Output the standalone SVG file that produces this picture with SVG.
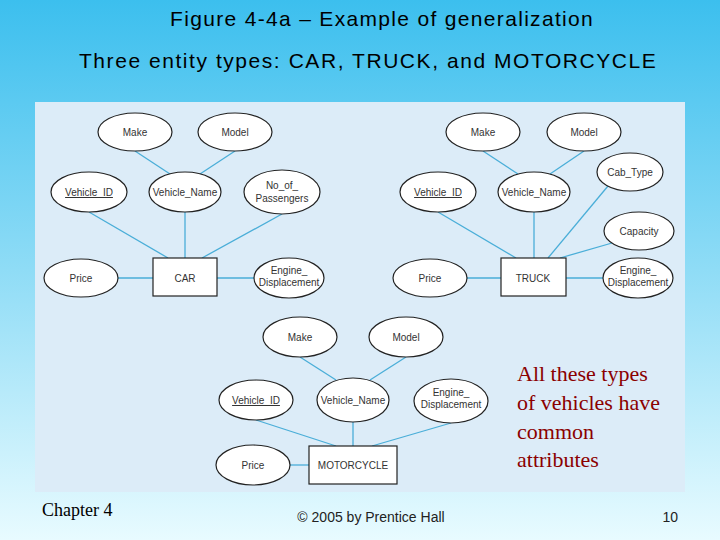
<svg xmlns="http://www.w3.org/2000/svg" width="720" height="540" viewBox="0 0 720 540">
<defs>
<linearGradient id="bg" x1="0" y1="0" x2="0" y2="1">
<stop offset="0" stop-color="#3cbfee"/><stop offset="0.5" stop-color="#8fdcf6"/><stop offset="1" stop-color="#e8fbff"/>
</linearGradient>
<style>
.e{fill:#fff;stroke:#222;stroke-width:1.2}
.r{fill:#fff;stroke:#222;stroke-width:1.2}
.t{font-family:"Liberation Sans",Arial,sans-serif;font-size:10px;fill:#333;text-anchor:middle}
.c line{stroke:#4aaed8;stroke-width:1.3}
.h{font-family:"Liberation Sans",Arial,sans-serif;font-size:21px;letter-spacing:1.2px;fill:#000;text-anchor:middle}
.s{font-family:"Liberation Serif","Times New Roman",serif;font-size:22px;fill:#8b0000}
</style>
</defs>
<rect width="720" height="540" fill="url(#bg)"/>
<text class="h" x="382" y="26" textLength="424">Figure 4-4a – Example of generalization</text>
<text class="h" x="368" y="68" textLength="578">Three entity types: CAR, TRUCK, and MOTORCYCLE</text>
<rect x="35" y="102" width="650" height="390" fill="#dcecf8"/>
<g class="c">
<line x1="135" y1="151" x2="170" y2="174"/><line x1="235" y1="151" x2="200" y2="174"/>
<line x1="89" y1="212" x2="168" y2="258"/><line x1="185" y1="212" x2="185" y2="258"/><line x1="282" y1="214" x2="202" y2="258"/>
<line x1="118" y1="278" x2="153" y2="278"/><line x1="217" y1="278" x2="254" y2="278"/>
<line x1="483" y1="151" x2="518" y2="174"/><line x1="584" y1="151" x2="550" y2="174"/>
<line x1="438" y1="212" x2="516" y2="258"/><line x1="534" y1="212" x2="534" y2="258"/>
<line x1="608" y1="186" x2="548" y2="258"/><line x1="612" y1="243" x2="560" y2="258"/>
<line x1="467" y1="278" x2="501" y2="278"/><line x1="566" y1="278" x2="603" y2="278"/>
<line x1="300" y1="357" x2="336" y2="380"/><line x1="406" y1="357" x2="370" y2="380"/>
<line x1="256" y1="420" x2="336" y2="446"/><line x1="353" y1="422" x2="353" y2="446"/><line x1="451" y1="423" x2="372" y2="446"/>
<line x1="290" y1="465" x2="309" y2="465"/>
</g>
<g id="car">
<g id="car-make"><ellipse class="e" cx="135" cy="132" rx="37" ry="19"/><text class="t" x="135" y="136">Make</text></g>
<g id="car-model"><ellipse class="e" cx="235" cy="132" rx="37" ry="19"/><text class="t" x="235" y="136">Model</text></g>
<g id="car-vid"><ellipse class="e" cx="89" cy="192" rx="38" ry="20"/><text class="t" x="89" y="196" text-decoration="underline">Vehicle_ID</text></g>
<g id="car-vname"><ellipse class="e" cx="185" cy="192" rx="36" ry="20"/><text class="t" x="185" y="196">Vehicle_Name</text></g>
<g id="car-pass"><ellipse class="e" cx="282" cy="192" rx="38" ry="22"/><text class="t" x="282" y="189">No_of_</text><text class="t" x="282" y="202">Passengers</text></g>
<g id="car-price"><ellipse class="e" cx="81" cy="278" rx="37" ry="19"/><text class="t" x="81" y="282">Price</text></g>
<g id="car-ent"><rect class="r" x="153" y="258" width="64" height="38"/><text class="t" x="185" y="282">CAR</text></g>
<g id="car-eng"><ellipse class="e" cx="289" cy="278" rx="35" ry="20"/><text class="t" x="289" y="274">Engine_</text><text class="t" x="289" y="286">Displacement</text></g>
</g>
<g id="truck">
<g id="tr-make"><ellipse class="e" cx="483" cy="132" rx="37" ry="19"/><text class="t" x="483" y="136">Make</text></g>
<g id="tr-model"><ellipse class="e" cx="584" cy="132" rx="37" ry="19"/><text class="t" x="584" y="136">Model</text></g>
<g id="tr-cab"><ellipse class="e" cx="630" cy="172" rx="33" ry="19"/><text class="t" x="630" y="176">Cab_Type</text></g>
<g id="tr-vid"><ellipse class="e" cx="438" cy="192" rx="38" ry="20"/><text class="t" x="438" y="196" text-decoration="underline">Vehicle_ID</text></g>
<g id="tr-vname"><ellipse class="e" cx="534" cy="192" rx="36" ry="20"/><text class="t" x="534" y="196">Vehicle_Name</text></g>
<g id="tr-cap"><ellipse class="e" cx="639" cy="231" rx="35" ry="19"/><text class="t" x="639" y="235">Capacity</text></g>
<g id="tr-price"><ellipse class="e" cx="430" cy="278" rx="37" ry="19"/><text class="t" x="430" y="282">Price</text></g>
<g id="tr-ent"><rect class="r" x="501" y="258" width="65" height="38"/><text class="t" x="533" y="282">TRUCK</text></g>
<g id="tr-eng"><ellipse class="e" cx="638" cy="278" rx="35" ry="20"/><text class="t" x="638" y="274">Engine_</text><text class="t" x="638" y="286">Displacement</text></g>
</g>
<g id="moto">
<g id="mo-make"><ellipse class="e" cx="300" cy="337" rx="37" ry="20"/><text class="t" x="300" y="341">Make</text></g>
<g id="mo-model"><ellipse class="e" cx="406" cy="337" rx="37" ry="20"/><text class="t" x="406" y="341">Model</text></g>
<g id="mo-vid"><ellipse class="e" cx="256" cy="400" rx="37" ry="20"/><text class="t" x="256" y="404" text-decoration="underline">Vehicle_ID</text></g>
<g id="mo-vname"><ellipse class="e" cx="353" cy="400" rx="36" ry="22"/><text class="t" x="353" y="404">Vehicle_Name</text></g>
<g id="mo-eng"><ellipse class="e" cx="451" cy="401" rx="37" ry="22"/><text class="t" x="451" y="396">Engine_</text><text class="t" x="451" y="408">Displacement</text></g>
<g id="mo-price"><ellipse class="e" cx="253" cy="465" rx="37" ry="20"/><text class="t" x="253" y="469">Price</text></g>
<g id="mo-ent"><rect class="r" x="309" y="446" width="88" height="38"/><text class="t" x="353" y="469">MOTORCYCLE</text></g>
</g>
<text class="s" x="517" y="381">All these types</text>
<text class="s" x="517" y="410">of vehicles have</text>
<text class="s" x="517" y="439">common</text>
<text class="s" x="517" y="467">attributes</text>
<text x="42" y="516" font-family="Liberation Serif,serif" font-size="18" fill="#000">Chapter 4</text>
<text x="371" y="522" font-family="Liberation Sans,Arial,sans-serif" font-size="14" fill="#222" text-anchor="middle">© 2005 by Prentice Hall</text>
<text x="678" y="522" font-family="Liberation Sans,Arial,sans-serif" font-size="14" fill="#222" text-anchor="end">10</text>
</svg>
